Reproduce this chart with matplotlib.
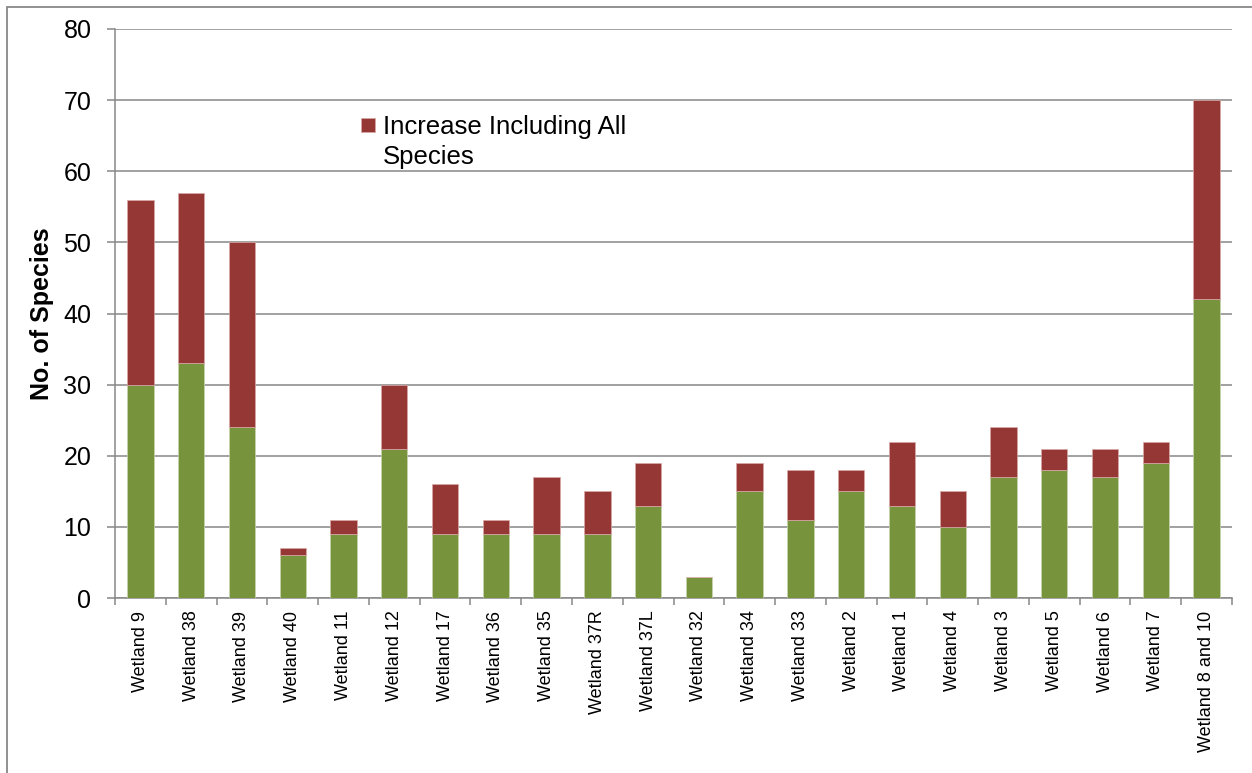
import matplotlib
matplotlib.use('Agg')
import matplotlib.pyplot as plt
from matplotlib.patches import Rectangle
from matplotlib.legend_handler import HandlerPatch

plt.rcParams['font.family'] = ['Liberation Sans', 'DejaVu Sans']

wetlands = ['Wetland 9', 'Wetland 38', 'Wetland 39', 'Wetland 40', 'Wetland 11',
            'Wetland 12', 'Wetland 17', 'Wetland 36', 'Wetland 35', 'Wetland 37R',
            'Wetland 37L', 'Wetland 32', 'Wetland 34', 'Wetland 33', 'Wetland 2',
            'Wetland 1', 'Wetland 4', 'Wetland 3', 'Wetland 5', 'Wetland 6',
            'Wetland 7', 'Wetland 8 and 10']
base_species = [30, 33, 24, 6, 9, 21, 9, 9, 9, 9, 13, 3, 15, 11, 15, 13, 10, 17, 18, 17, 19, 42]
all_species = [56, 57, 50, 7, 11, 30, 16, 11, 17, 15, 19, 3, 19, 18, 18, 22, 15, 24, 21, 21, 22, 70]
increase = [a - b for a, b in zip(all_species, base_species)]

green = '#77933C'
red = '#953735'
gray = '#888888'

fig = plt.figure(figsize=(12.52, 7.73), dpi=100)
ax = fig.add_axes([115/1252, 1 - 598/773, (1232-115)/1252, (598-29)/773])

x = list(range(len(wetlands)))
ax.bar(x, base_species, width=0.52, color=green, edgecolor='#c8d4b0', linewidth=0.5, zorder=3)
incr = ax.bar(x, increase, bottom=base_species, width=0.52, color=red,
              edgecolor='#d9a9a8', linewidth=0.5, zorder=3)

ax.set_xlim(-0.5, len(wetlands) - 0.5)
ax.set_ylim(0, 80)
ax.set_yticks(range(0, 81, 10))
ax.yaxis.grid(True, color=gray, linewidth=1.1, zorder=0)
ax.set_axisbelow(True)

for s in ['top', 'right']:
    ax.spines[s].set_visible(False)
for s in ['left', 'bottom']:
    ax.spines[s].set_color(gray)
    ax.spines[s].set_linewidth(1.1)

ax.tick_params(axis='y', labelsize=18, color=gray, width=1.1, length=6, pad=11)
ax.set_xticks(x)
ax.set_xticklabels(wetlands, rotation=90, fontsize=13)
ax.tick_params(axis='x', which='major', length=0, pad=9)
ax.set_xticks([i - 0.5 for i in range(len(wetlands) + 1)], minor=True)
ax.tick_params(axis='x', which='minor', length=5, color=gray, width=1.1)

ax.set_ylabel('No. of Species', fontsize=18, fontweight='bold', labelpad=7)


def raised_square(legend, orig_handle, xdescent, ydescent, width, height, fontsize):
    return Rectangle((-xdescent, -ydescent + fontsize * 0.72), width, width)


red_patch = incr.patches[0]
leg = ax.legend([red_patch], ['Increase Including All\nSpecies'], loc='upper left',
                bbox_to_anchor=(361/1252, 1 - 115/773), bbox_transform=fig.transFigure,
                frameon=False, fontsize=18.5, borderpad=0, borderaxespad=0,
                handlelength=0.55, handleheight=0.55, handletextpad=0.3,
                handler_map={red_patch: HandlerPatch(patch_func=raised_square)})
for t in leg.get_texts():
    t.set_linespacing(1.32)

# outer chart frame
fig.add_artist(Rectangle((7/1252, -0.1), 1.2, 1 - 7/773 + 0.1, transform=fig.transFigure,
                         fill=False, edgecolor=gray, linewidth=1.3))

fig.savefig('out.png', dpi=100)
